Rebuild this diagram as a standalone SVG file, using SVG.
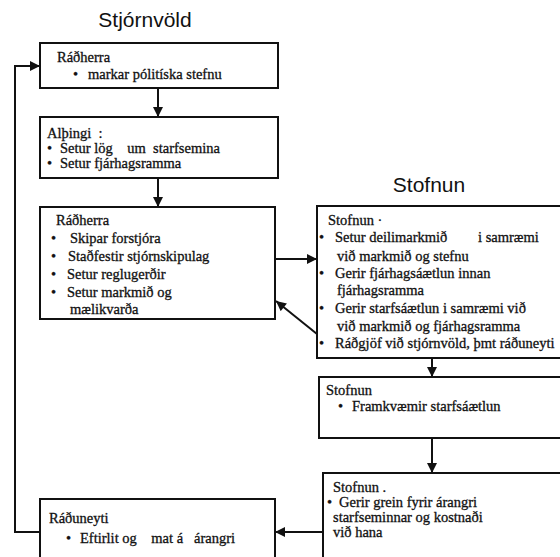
<svg xmlns="http://www.w3.org/2000/svg" width="560" height="557" viewBox="0 0 560 557">
  <defs>
    <marker id="arrow" viewBox="0 0 10 10" refX="10" refY="5" markerWidth="11" markerHeight="10" markerUnits="userSpaceOnUse" orient="auto">
      <path d="M0,0 L10,5 L0,10 Z" fill="#111"/>
    </marker>
    <style>
      .box { fill: #ffffff; stroke: #111; stroke-width: 2; }
      .conn { fill: none; stroke: #111; stroke-width: 2; marker-end: url(#arrow); }
      .title { font-family: "Liberation Sans", Arial, sans-serif; font-size: 21px; fill: #111; }
      .t { font-family: "Liberation Serif", "Times New Roman", serif; font-size: 14.5px; fill: #111; stroke: #111; stroke-width: 0.3; white-space: pre; }
    </style>
  </defs>
  <rect width="560" height="557" fill="#ffffff"/>

  <text class="title" x="145" y="27" text-anchor="middle">Stjórnvöld</text>
  <text class="title" x="429" y="192" text-anchor="middle">Stofnun</text>

  <g id="connectors">
    <line class="conn" x1="158" y1="88" x2="158" y2="117"/>
    <line class="conn" x1="158" y1="178" x2="158" y2="207"/>
    <line class="conn" x1="275" y1="259" x2="317" y2="259"/>
    <line class="conn" x1="317" y1="334" x2="276" y2="301"/>
    <line class="conn" x1="432" y1="358" x2="432" y2="377"/>
    <line class="conn" x1="432" y1="438" x2="432" y2="473"/>
    <line class="conn" x1="323" y1="532" x2="275" y2="532"/>
    <polyline class="conn" points="40,532 15,532 15,66 40,66"/>
  </g>

  <g id="radherra-stefna">
    <rect class="box" x="40" y="43" width="238" height="45"/>
    <text class="t" x="57" y="62">Ráðherra</text>
    <text class="t" x="73" y="79">•</text>
    <text class="t" x="88" y="79">markar pólitíska stefnu</text>
  </g>

  <g id="althingi">
    <rect class="box" x="40" y="117" width="238" height="61"/>
    <text class="t" x="47" y="138">Alþingi  :</text>
    <text class="t" x="47" y="153">•</text>
    <text class="t" x="60" y="153">Setur lög    um  starfsemina</text>
    <text class="t" x="47" y="168">•</text>
    <text class="t" x="60" y="168">Setur fjárhagsramma</text>
  </g>

  <g id="radherra-skipan">
    <rect class="box" x="40" y="207" width="235" height="112"/>
    <text class="t" x="56" y="225">Ráðherra</text>
    <text class="t" x="51" y="243">•</text>
    <text class="t" x="70" y="243">Skipar forstjóra</text>
    <text class="t" x="51" y="261">•</text>
    <text class="t" x="68" y="261">Staðfestir stjórnskipulag</text>
    <text class="t" x="51" y="279">•</text>
    <text class="t" x="67" y="279">Setur reglugerðir</text>
    <text class="t" x="51" y="297">•</text>
    <text class="t" x="67" y="297">Setur markmið og</text>
    <text class="t" x="70" y="314">mælikvarða</text>
  </g>

  <g id="raduneyti">
    <rect class="box" x="40" y="499" width="235" height="70"/>
    <text class="t" x="49" y="523">Ráðuneyti</text>
    <text class="t" x="66" y="543">•</text>
    <text class="t" x="80" y="543">Eftirlit og    mat á   árangri</text>
  </g>

  <g id="stofnun-markmid">
    <rect class="box" x="317" y="206" width="260" height="152"/>
    <text class="t" x="328" y="225">Stofnun ·</text>
    <text class="t" x="319" y="242">•</text>
    <text class="t" x="335" y="242">Setur deilimarkmið</text>
    <text class="t" x="478" y="242">i samræmi</text>
    <text class="t" x="337" y="261">við markmið og stefnu</text>
    <text class="t" x="319" y="278">•</text>
    <text class="t" x="335" y="278">Gerir fjárhagsáætlun innan</text>
    <text class="t" x="337" y="295">fjárhagsramma</text>
    <text class="t" x="319" y="313">•</text>
    <text class="t" x="335" y="313">Gerir starfsáætlun i samræmi við</text>
    <text class="t" x="337" y="331">við markmið og fjárhagsramma</text>
    <text class="t" x="319" y="348">•</text>
    <text class="t" x="335" y="348">Ráðgjöf við stjórnvöld, þmt ráðuneyti</text>
  </g>

  <g id="stofnun-framkvaemd">
    <rect class="box" x="319" y="377" width="260" height="61"/>
    <text class="t" x="326" y="395">Stofnun</text>
    <text class="t" x="338" y="411">•</text>
    <text class="t" x="352" y="411">Framkvæmir starfsáætlun</text>
  </g>

  <g id="stofnun-arangur">
    <rect class="box" x="323" y="473" width="260" height="100"/>
    <text class="t" x="333" y="492">Stofnun .</text>
    <text class="t" x="327" y="507">•</text>
    <text class="t" x="339" y="507">Gerir grein fyrir árangri</text>
    <text class="t" x="333" y="522">starfseminnar og kostnaði</text>
    <text class="t" x="333" y="537">við hana</text>
  </g>
</svg>
